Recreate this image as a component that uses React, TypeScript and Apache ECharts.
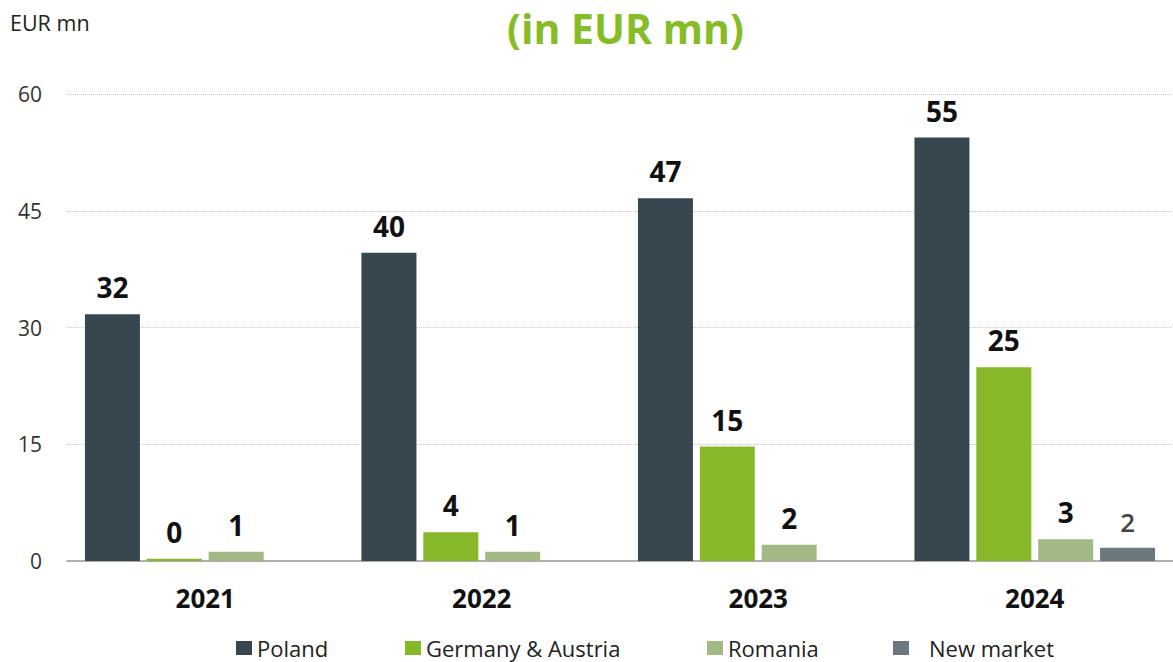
import React, { useEffect, useRef } from "react";
import * as echarts from "echarts";

const categories = ["2021", "2022", "2023", "2024"];
const seriesNames = ["Poland", "Germany & Austria", "Romania", "New market"];
const poland = [31.7, 39.6, 46.6, 54.4];
const germany = [0.3, 3.7, 14.7, 24.9];
const romania = [1.2, 1.2, 2.1, 2.8];
const newMarket = [null, null, null, 1.7];
const polandLabels = ["32", "40", "47", "55"];
const germanyLabels = ["0", "4", "15", "25"];
const romaniaLabels = ["1", "1", "2", "3"];
const newMarketLabels = ["", "", "", "2"];
const yTicks = [0, 15, 30, 45, 60];

const colors = ["#37474f", "#86b82a", "#a3b985", "#6b787e"];
const legendLeft = [236, 405, 707, 893];
const legendTextPad = [0, 0, 0, 15];
const FONT = "'Open Sans', 'Noto Sans', sans-serif";

export default function App() {
  const ref = useRef<HTMLDivElement>(null);
  useEffect(() => {
    document.body.style.margin = "0";
    const chart = echarts.init(ref.current!, null, { renderer: "svg" });
    const mk = (i: number, data: (number | null)[], labels: string[], labelStyle: any) => ({
      name: seriesNames[i],
      type: "bar",
      data,
      barWidth: 55,
      barGap: "12.5%",
      itemStyle: { color: colors[i] },
      label: {
        show: true,
        position: "top",
        distance: 13,
        fontFamily: FONT,
        formatter: (p: any) => labels[p.dataIndex],
        ...labelStyle,
      },
    });
    const mainLabel = { fontSize: 28, fontWeight: "bold", color: "#111" };
    chart.setOption({
      animation: false,
      color: colors,
      textStyle: { fontFamily: FONT },
      title: [
        {
          text: "(in EUR mn)",
          left: 507,
          top: 0,
          padding: 0,
          textStyle: {
            fontSize: 41,
            lineHeight: 55,
            fontWeight: "bold",
            color: "#86bc25",
            fontFamily: FONT,
          },
        },
        {
          text: "EUR mn",
          left: 5,
          top: 6,
          textStyle: { fontSize: 21.5, fontWeight: "normal", color: "#222", fontFamily: FONT },
        },
      ],
      legend: seriesNames.map((n, i) => ({
        left: legendLeft[i],
        top: 637,
        padding: 0,
        itemWidth: 16,
        itemHeight: 14,
        icon: "rect",
        textStyle: {
          fontSize: 22,
          lineHeight: 22,
          color: "#222",
          fontFamily: FONT,
          padding: [0, 0, 0, legendTextPad[i]],
        },
        data: [n],
      })),
      grid: { left: 67, right: 0, top: 94, bottom: 101, containLabel: false },
      xAxis: {
        type: "category",
        data: categories,
        axisLine: { lineStyle: { color: "#999", width: 1.5 } },
        axisTick: { show: false },
        axisLabel: { fontSize: 26, fontWeight: "bold", color: "#111", margin: 24, fontFamily: FONT },
      },
      yAxis: {
        type: "value",
        min: 0,
        max: 60,
        interval: 15,
        axisLine: { show: false },
        axisTick: { show: false },
        axisLabel: {
          fontSize: 21,
          color: "#333",
          margin: 25,
          fontFamily: FONT,
          formatter: (v: number) => (yTicks.includes(v) ? String(v) : ""),
        },
        splitLine: { lineStyle: { color: "#c8c8c8", type: "dotted", width: 1 } },
      },
      series: [
        mk(0, poland, polandLabels, mainLabel),
        mk(1, germany, germanyLabels, mainLabel),
        mk(2, romania, romaniaLabels, mainLabel),
        mk(3, newMarket, newMarketLabels, { fontSize: 26, fontWeight: 600, color: "#454545" }),
      ],
    });
    return () => chart.dispose();
  }, []);
  return <div ref={ref} style={{ width: 1173, height: 662 }} />;
}
